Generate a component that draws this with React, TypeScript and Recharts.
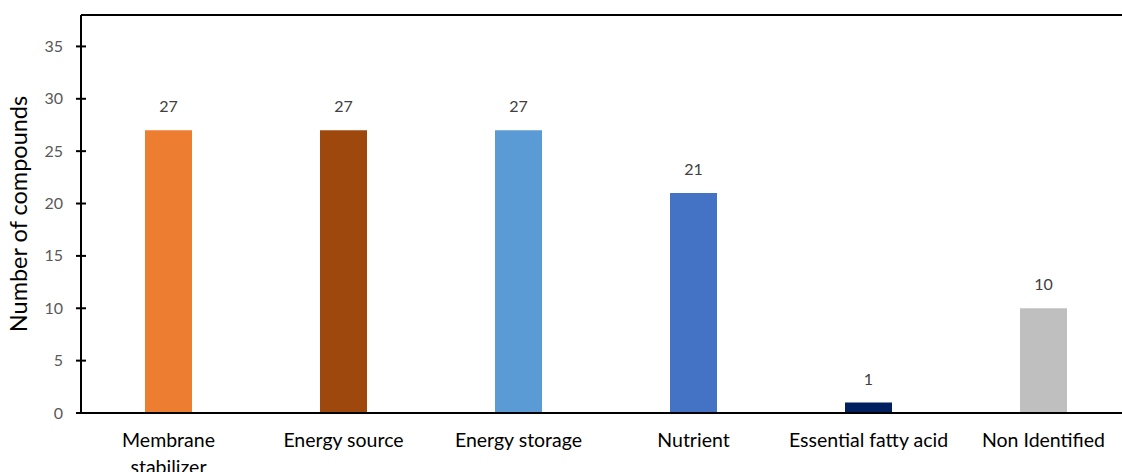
import { BarChart, Bar, XAxis, YAxis, LabelList, ReferenceLine, Cell } from "recharts";

const categories = [
  "Membrane\nstabilizer",
  "Energy source",
  "Energy storage",
  "Nutrient",
  "Essential fatty acid",
  "Non Identified",
];
const compounds = [27, 27, 27, 21, 1, 10];
const barColors = ["#ED7D31", "#9E480E", "#5B9BD5", "#4472C4", "#002060", "#BFBFBF"];
const yTicks = [0, 5, 10, 15, 20, 25, 30, 35];

const data = categories.map((name, i) => ({ name, value: compounds[i] }));

const FONT = "Lato, 'Open Sans', sans-serif";

// y ticks cross the axis line (5px each side), label sits to the left
const YTick = (props: any) => {
  const { x, y, payload } = props;
  const axisX = x + 13 + 5;
  return (
    <g>
      <line x1={axisX - 5} x2={axisX + 5} y1={y} y2={y} stroke="#000" strokeWidth={2} />
      <text x={x} y={y} dy={5.5} textAnchor="end" fill="#595959" fontSize={16} fontFamily={FONT}>
        {payload.value}
      </text>
    </g>
  );
};

const XTick = (props: any) => {
  const { x, y, payload } = props;
  const lines = String(payload.value).split("\n");
  return (
    <text x={x} y={y} textAnchor="middle" fill="#000" fontSize={19.5} fontFamily={FONT}>
      {lines.map((l, i) => (
        <tspan key={i} x={x} dy={i === 0 ? 26 : 27}>
          {l}
        </tspan>
      ))}
    </text>
  );
};

export default function App() {
  return (
    <div style={{ position: "fixed", left: 0, top: 0, width: 1122, height: 472, overflow: "hidden", background: "#fff" }}>
      <style>{`html, body { margin: 0; overflow: hidden; }`}</style>
      <div style={{ position: "absolute", left: 8, top: 8 }}>
        <BarChart
          width={1123}
          height={464}
          data={data}
          margin={{ top: 7, right: 0, bottom: 0, left: 0 }}
          barSize={47}
        >
          <XAxis
            dataKey="name"
            height={59}
            axisLine={{ stroke: "#000", strokeWidth: 2 }}
            tickLine={false}
            tick={<XTick />}
            interval={0}
          />
          <YAxis
            width={73}
            domain={[0, 38]}
            ticks={yTicks}
            allowDataOverflow
            axisLine={{ stroke: "#000", strokeWidth: 2 }}
            tickLine={false}
            tickSize={5}
            tickMargin={13}
            tick={<YTick />}
            label={{
              value: "Number of compounds",
              angle: -90,
              position: "insideLeft",
              offset: 11,
              style: { textAnchor: "middle", fill: "#000", fontSize: 23.5, fontFamily: FONT },
            }}
          />
          <ReferenceLine y={38} stroke="#000" strokeWidth={2} />
          <Bar dataKey="value" isAnimationActive={false}>
            {data.map((_, i) => (
              <Cell key={i} fill={barColors[i]} />
            ))}
            <LabelList
              dataKey="value"
              position="top"
              offset={18}
              fill="#404040"
              fontSize={16}
              fontFamily={FONT}
            />
          </Bar>
        </BarChart>
      </div>
    </div>
  );
}
